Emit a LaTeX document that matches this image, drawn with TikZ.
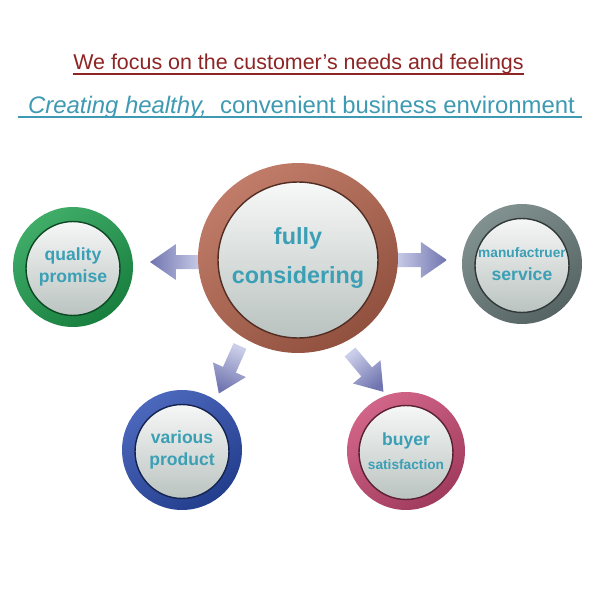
\documentclass[tikz,border=0pt]{standalone}
\usepackage{fontspec}
\setmainfont{Liberation Sans}
\usetikzlibrary{shapes.geometric,backgrounds}
\definecolor{titlered}{HTML}{8E2424}
\definecolor{subteal}{HTML}{3E9AB2}
\definecolor{tealtext}{HTML}{3B9FB5}
\definecolor{innergrey}{HTML}{B3BDBA}
\definecolor{ringgreen}{HTML}{1E9E4E}
\definecolor{ringbrown}{HTML}{B5654E}
\definecolor{ringgrey}{HTML}{6B7E7C}
\definecolor{ringblue}{HTML}{2C4DB0}
\definecolor{ringpink}{HTML}{C94A74}
\definecolor{arrowdark}{HTML}{7075B0}
\definecolor{arrowlight}{HTML}{CBCEE8}

\begin{document}
\begin{tikzpicture}[x=0.02cm,y=0.02cm,
ring/.style={circle,minimum size=2.4cm,inner sep=0pt,top color=#1!85!white,bottom color=#1!80!black,shading angle=35,align=center,text=tealtext,font=\bfseries\fontsize{10}{12.5}\selectfont,
  path picture={\shade[top color=white,bottom color=innergrey,draw=#1!45!black,line width=.8pt] ([yshift=-.03cm]path picture bounding box.center) circle (.94cm);}},
pics/blockarr/.style={code={\path[top color=arrowlight,bottom color=arrowdark,shading angle=#1] (0,-7)--(26,-7)--(26,-18)--(52,0)--(26,18)--(26,7)--(0,7)--cycle;}}]
\useasboundingbox (0,0) rectangle (600,600);

\node[anchor=base,inner sep=0pt,text=titlered,font=\fontsize{12.2}{15}\selectfont] (head) at (298.5,531) {We focus on the customer's needs and feelings};
\draw[titlered,line width=.9pt] ([yshift=-.1cm]head.base west)--([yshift=-.1cm]head.base east);
\node[anchor=base,inner sep=0pt,text=subteal,font=\fontsize{13.6}{16}\selectfont] (sub) at (301.5,487) {\itshape Creating healthy,\ \ \upshape convenient business environment};
\draw[subteal,line width=.9pt] ([xshift=-.2cm,yshift=-.08cm]sub.base west)--([xshift=.14cm,yshift=-.08cm]sub.base east);

\node[ring=ringbrown,ellipse,minimum width=4cm,minimum height=3.8cm,font=\bfseries\fontsize{13.3}{22}\selectfont,
  path picture={\shade[top color=white,bottom color=innergrey,draw=ringbrown!45!black,line width=.8pt] ([yshift=-.04cm]path picture bounding box.center) ellipse [x radius=1.6cm,y radius=1.56cm];}] (main) at (298,342) {fully\\considering};
\node[ring=ringgreen] (quality) at (73,333) {quality\\promise};
\node[ring=ringgrey] (service) at (522,336) {{\fontsize{7.8}{9}\selectfont manufactruer}\\[1pt]service};
\node[ring=ringblue] (various) at (182,150) {various\\product};
\node[ring=ringpink,minimum size=2.36cm] (buyer) at (406,149) {buyer\\[1pt]{\fontsize{7.8}{9}\selectfont satisfaction}};

\begin{scope}[on background layer]
\pic[rotate=180] at ([shift={(-96,-4)}]main.center) {blockarr=270};
\pic at ([shift={(97,-2)}]main.center) {blockarr=90};
\pic[rotate=246] at ([shift={(-58,-88)}]main.center) {blockarr=336};
\pic[rotate=-50] at ([shift={(52,-94)}]main.center) {blockarr=40};
\end{scope}
\end{tikzpicture}
\end{document}
